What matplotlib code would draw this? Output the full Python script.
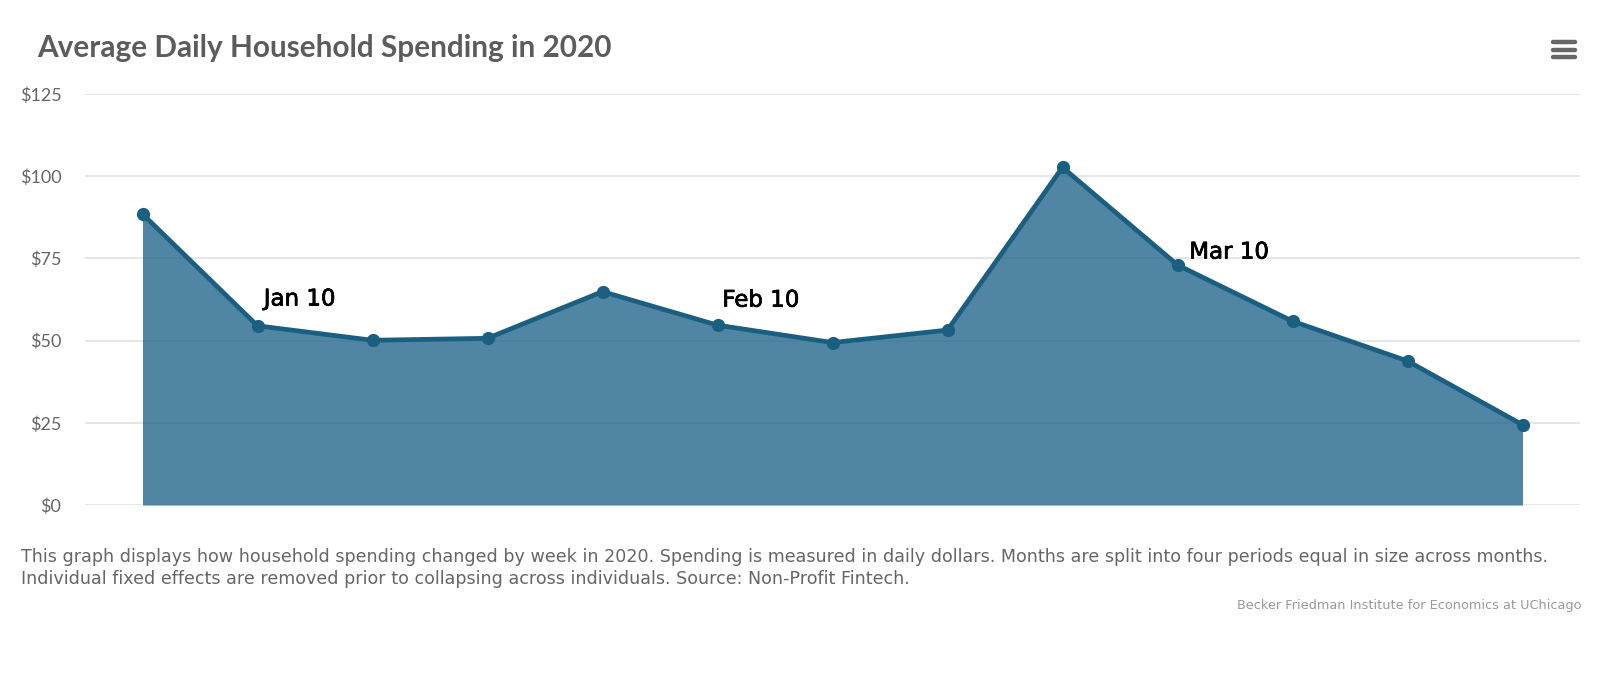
import matplotlib
matplotlib.use('Agg')
import matplotlib.pyplot as plt
import matplotlib.patheffects as pe
from matplotlib.lines import Line2D

# values
weeks = list(range(13))
spending = [88.5, 54.5, 50.1, 50.7, 64.9, 54.7, 49.4, 53.2, 102.7, 73.0, 55.9, 43.8, 24.4]
y_ticks = [0, 25, 50, 75, 100, 125]
y_labels = ['$0', '$25', '$50', '$75', '$100', '$125']
notes = [(1, 'Jan 10'), (5, 'Feb 10'), (9, 'Mar 10')]

W, H = 1623, 683
LINE = '#1a5f80'
FILL = '#2a6a90'
GRID = '#e2e2e2'
TEXT = '#666666'

fig = plt.figure(figsize=(W / 100, H / 100), dpi=100)
ax = fig.add_axes([85 / W, 1 - 505 / H, (1580 - 85) / W, (505 - 94) / H])
ax.set_xlim(-0.5, 12.5)
ax.set_ylim(0, 125)

# gridlines
ax.set_yticks(y_ticks)
ax.set_yticklabels(y_labels, family='Lato', fontsize=13, color=TEXT)
ax.tick_params(axis='y', length=0, pad=17)
ax.set_xticks([])
ax.grid(axis='y', color=GRID, lw=1.2)
ax.set_axisbelow(True)
for s in ax.spines.values():
    s.set_visible(False)

# area and line
ax.fill_between(weeks, spending, 0, color=FILL, alpha=0.82, lw=0)
ax.plot(weeks, spending, color=LINE, lw=3.4, marker='o', ms=8.5, clip_on=False, solid_joinstyle='round')

# month labels
offsets = {1: (4.5, 11), 5: (3.5, 9.7), 9: (8.5, 1)}
for i, label in notes:
    ax.annotate(label, (weeks[i], spending[i]), xytext=offsets[i], textcoords='offset points',
                family='DejaVu Sans', fontsize=16.5, color='black', ha='left', va='bottom',
                path_effects=[pe.withStroke(linewidth=2.5, foreground='white'),
                              pe.withStroke(linewidth=0.5, foreground='black')])

# title, caption, credit
fig.text(37 / W, 1 - 48 / H, 'Average Daily Household Spending in 2020', family='Lato', weight='bold',
         fontsize=21.4, color='#5c5c5c', va='center')
fig.text(21 / W, 1 - 556.5 / H, 'This graph displays how household spending changed by week in 2020. '
         'Spending is measured in daily dollars. Months are split into four periods equal in size across months.',
         fontsize=12.57, color=TEXT, va='center')
fig.text(21 / W, 1 - 579.5 / H, 'Individual fixed effects are removed prior to collapsing across individuals. '
         'Source: Non-Profit Fintech.', fontsize=12.57, color=TEXT, va='center')
fig.text(1581.5 / W, 1 - 606 / H, 'Becker Friedman Institute for Economics at UChicago',
         fontsize=9.3, color='#999999', ha='right', va='center')

# menu icon
for y in [42, 49.5, 57]:
    fig.add_artist(Line2D([1553 / W, 1575 / W], [1 - y / H, 1 - y / H], color='#666666', lw=3.2,
                          solid_capstyle='round'))

fig.savefig('out.png', dpi=100)
plt.close()
